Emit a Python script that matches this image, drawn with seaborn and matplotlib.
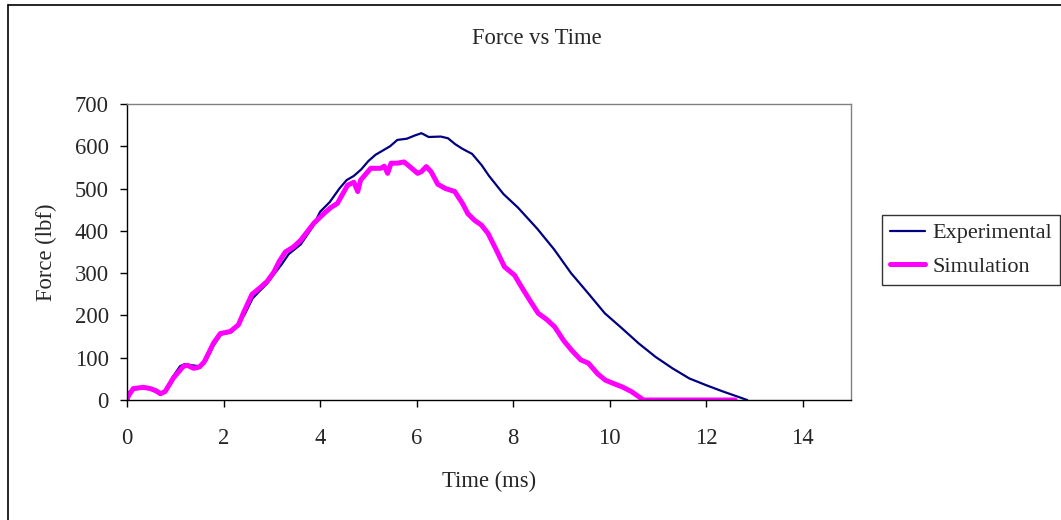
import matplotlib
matplotlib.use("Agg")
import matplotlib.pyplot as plt
from matplotlib.lines import Line2D
import seaborn as sns
import pandas as pd

# ---- data ----
exp_time = [0.0, 0.05, 0.15, 0.3, 0.45, 0.55, 0.7, 0.8, 0.95, 1.1, 1.2, 1.35, 1.5, 1.65, 1.8,
            1.95, 2.15, 2.3, 2.45, 2.6, 2.75, 2.9, 3.05, 3.2, 3.35, 3.6, 3.85, 4.0, 4.2, 4.4,
            4.55, 4.7, 4.85, 5.0, 5.15, 5.3, 5.45, 5.6, 5.8, 5.95, 6.1, 6.25, 6.5, 6.65, 6.8,
            6.95, 7.15, 7.35, 7.5, 7.8, 8.1, 8.5, 8.85, 9.2, 9.55, 9.9, 10.25, 10.6, 10.95,
            11.3, 11.65, 12.0, 12.35, 12.7, 12.85]
exp_force = [5, 20, 25, 27, 30, 22, 12, 20, 55, 80, 85, 82, 80, 95, 130,
             155, 160, 175, 205, 240, 258, 275, 298, 320, 345, 368, 410, 445, 468, 500,
             520, 530, 545, 565, 580, 590, 600, 615, 618, 625, 631, 622, 623, 619, 605,
             594, 582, 555, 530, 487, 455, 405, 356, 300, 253, 205, 170, 134, 102,
             75, 51, 35, 20, 6, 0]

sim_time = [0.0, 0.03, 0.13, 0.34, 0.48, 0.6, 0.69, 0.79, 0.96, 1.17, 1.25, 1.38, 1.5, 1.6,
            1.79, 1.93, 2.14, 2.31, 2.42, 2.59, 2.73, 2.9, 3.04, 3.15, 3.28, 3.45, 3.6, 3.87,
            4.08, 4.22, 4.36, 4.57, 4.7, 4.78, 4.84, 5.05, 5.26, 5.33, 5.4, 5.47, 5.6, 5.74,
            5.9, 6.02, 6.1, 6.2, 6.3, 6.44, 6.6, 6.79, 6.95, 7.06, 7.2, 7.34, 7.48, 7.65,
            7.82, 8.03, 8.17, 8.35, 8.52, 8.7, 8.86, 9.05, 9.21, 9.4, 9.56, 9.75, 9.91, 10.1,
            10.26, 10.45, 10.6, 10.7, 12.6]
sim_force = [0, 10, 27, 30, 27, 22, 15, 20, 52, 80, 82, 75, 78, 90,
             134, 157, 162, 178, 208, 250, 263, 280, 302, 327, 350, 362, 378, 418,
             441, 455, 465, 508, 515, 493, 520, 548, 548, 553, 536, 560, 560, 563,
             548, 536, 540, 552, 540, 510, 500, 493, 465, 441, 425, 414, 394, 355,
             315, 295, 268, 235, 205, 190, 173, 140, 118, 95, 87, 62, 47, 38,
             31, 20, 8, 0, 0]

x_ticks = [0, 2, 4, 6, 8, 10, 12, 14]
y_ticks = [0, 100, 200, 300, 400, 500, 600, 700]
series_names = ["Experimental", "Simulation"]

title = "Force vs Time"
x_label = "Time (ms)"
y_label = "Force (lbf)"

# ---- style ----
sns.set_theme(style="white")
plt.rcParams["font.family"] = ["Liberation Serif", "DejaVu Serif"]
FS = 16.3
LEG_FS = 16

exp_df = pd.DataFrame({"time": exp_time, "force": exp_force})
sim_df = pd.DataFrame({"time": sim_time, "force": sim_force})

fig = plt.figure(figsize=(10.61, 5.20), dpi=100)
ax = fig.add_axes([127 / 1061, 1 - 400 / 520, (851 - 127) / 1061, (400 - 104) / 520])

sns.lineplot(data=exp_df, x="time", y="force", sort=False, estimator=None,
             color="#000080", linewidth=1.6, label=series_names[0], ax=ax)
sns.lineplot(data=sim_df, x="time", y="force", sort=False, estimator=None,
             color="#FF00FF", linewidth=3.6, label=series_names[1], ax=ax)

ax.set_xlim(0, 15)
ax.set_ylim(0, 700)
ax.set_xticks(x_ticks)
ax.set_yticks(y_ticks)
ax.set_xticklabels([str(v) for v in x_ticks], fontsize=FS)
ax.set_yticklabels([str(v) for v in y_ticks], fontsize=FS)
ax.tick_params(axis="x", direction="out", length=5, width=1, color="black", pad=15, bottom=True)
ax.tick_params(axis="y", direction="out", length=5, width=1, color="black", pad=8, left=True)

for side in ["left", "bottom"]:
    ax.spines[side].set_color("black")
    ax.spines[side].set_linewidth(1.0)
for side in ["top", "right"]:
    ax.spines[side].set_color("#808080")
    ax.spines[side].set_linewidth(1.0)

ax.set_xlabel("")
ax.set_ylabel("")
fig.text(489 / 1061, 1 - 481 / 520, x_label, ha="center", va="center", fontsize=FS)
fig.text(46 / 1061, 1 - 252 / 520, y_label, ha="center", va="center", rotation=90, fontsize=FS)
fig.text(537 / 1061, 1 - 38 / 520, title, ha="center", va="center", fontsize=FS)

leg = ax.legend(loc="upper left", bbox_to_anchor=(882 / 1061, 1 - 215 / 520),
                bbox_transform=fig.transFigure, borderaxespad=0, frameon=True,
                fancybox=False, shadow=False, fontsize=LEG_FS, handlelength=1.6,
                handletextpad=0.3, borderpad=0.35, labelspacing=0.6)
leg.get_frame().set_edgecolor("black")
leg.get_frame().set_linewidth(1.0)

# figure border (left and top visible)
fig.add_artist(Line2D([7.5 / 1061, 7.5 / 1061], [0, 1 - 4.5 / 520], color="black",
                      linewidth=1.2, transform=fig.transFigure))
fig.add_artist(Line2D([7.5 / 1061, 1], [1 - 4.5 / 520, 1 - 4.5 / 520], color="black",
                      linewidth=1.2, transform=fig.transFigure))

fig.savefig("out.png", dpi=100, facecolor="white")
